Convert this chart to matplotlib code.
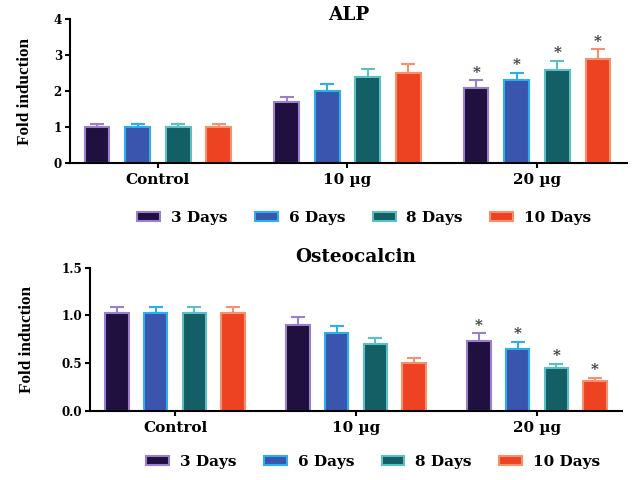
import matplotlib
matplotlib.use("Agg")
import matplotlib.pyplot as plt
import numpy as np

groups = ["Control", "10 µg", "20 µg"]
series = ["3 Days", "6 Days", "8 Days", "10 Days"]

alp_vals = [[1.0, 1.69, 2.09], [1.0, 2.01, 2.30], [1.0, 2.39, 2.58], [0.99, 2.50, 2.88]]
alp_err = [[0.09, 0.15, 0.21], [0.09, 0.18, 0.21], [0.09, 0.22, 0.25], [0.09, 0.24, 0.28]]
alp_sig = [[False, False, True]] * 4

ost_vals = [[1.02, 0.90, 0.735], [1.03, 0.82, 0.65], [1.03, 0.70, 0.445], [1.03, 0.50, 0.315]]
ost_err = [[0.07, 0.08, 0.075], [0.06, 0.07, 0.07], [0.06, 0.06, 0.045], [0.06, 0.05, 0.031]]
ost_sig = [[False, False, True]] * 4

fills = ["#1f1040", "#3a55ad", "#145e66", "#ee4322"]
edges = ["#9a7fcf", "#2bb0ee", "#5cbfc3", "#f4916f"]

SERIF = ['DejaVu Serif']
plt.rcParams['font.family'] = SERIF
plt.rcParams['font.weight'] = 'bold'

fig = plt.figure(figsize=(6.4, 4.8), dpi=100)

def draw(rect, xlim, title, title_y, vals, errs, sigs, ylim, yticks, yticklabels,
         legend_xy, ylabel_x):
    ax = fig.add_axes(rect)
    x = np.arange(len(groups))
    step = 0.214
    width = 0.13
    handles = []
    for i, s in enumerate(series):
        xs = x + (i - 1.5) * step
        b = ax.bar(xs, vals[i], width, color=fills[i], edgecolor=edges[i], linewidth=1.5,
                   label=s, zorder=2)
        handles.append(b)
        ax.errorbar(xs, vals[i], yerr=[np.zeros(len(groups)), errs[i]], fmt='none',
                    ecolor=edges[i], elinewidth=1.5, capsize=5, capthick=1.5, zorder=1)
        for j in range(len(groups)):
            if sigs[i][j]:
                ax.annotate("*", (xs[j], vals[i][j] + errs[i][j]), xytext=(0, 5.5),
                            textcoords='offset points', ha='center', va='center',
                            fontsize=11, color='#3a3a3a', fontweight='bold')
    ax.set_xlim(*xlim)
    ax.set_ylim(*ylim)
    ax.set_yticks(yticks)
    ax.set_yticklabels(yticklabels, fontsize=8.6, fontweight='bold')
    ax.set_xticks(x)
    ax.set_xticklabels(groups, fontsize=11, fontweight='bold')
    ax.spines['top'].set_visible(False)
    ax.spines['right'].set_visible(False)
    for sp in ['left', 'bottom']:
        ax.spines[sp].set_linewidth(1.5)
    ax.tick_params(width=1.5, length=3.8)
    ax.tick_params(axis='x', pad=3.5)
    ax.tick_params(axis='y', pad=2)
    ax.set_ylabel("Fold induction", fontsize=12.3, fontweight='bold',
                  family=['Liberation Serif', 'DejaVu Serif'])
    ax.yaxis.set_label_coords(ylabel_x, 0.5)
    ax.yaxis.label.set_verticalalignment('center')
    ax.text(0.5, title_y, title, transform=ax.transAxes, ha='center', va='center',
            fontsize=13.3, fontweight='bold')
    fig.legend(handles=handles, labels=series, loc='center', bbox_to_anchor=legend_xy,
               ncol=4, frameon=False, handlelength=1.5, handleheight=0.6,
               columnspacing=1.8, handletextpad=0.7, prop={'weight': 'bold', 'size': 11})
    return ax

draw([0.1094, 0.6604, 0.8703, 0.3000], (-0.464, 2.475), "ALP", 1.028,
     alp_vals, alp_err, alp_sig, (0, 4),
     [0, 1, 2, 3, 4], ["0", "1", "2", "3", "4"], (0.569, 0.546), -0.081)
draw([0.1406, 0.1444, 0.8313, 0.2979], (-0.47, 2.47), "Osteocalcin", 1.075,
     ost_vals, ost_err, ost_sig, (0, 1.5),
     [0, 0.5, 1.0, 1.5], ["0.0", "0.5", "1.0", "1.5"], (0.583, 0.0375), -0.118)

fig.savefig("out.png", dpi=100)
